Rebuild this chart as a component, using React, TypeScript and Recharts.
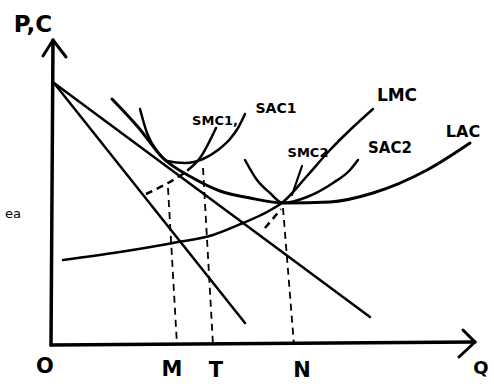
import React from 'react';
import { LineChart, Line, XAxis, YAxis, ReferenceDot } from 'recharts';

// Quantity (x) and price/cost (y) in the sketch's own arbitrary units
const qAxis = [{ x: 0, y: 0 }, { x: 424, y: 3 }];
const pAxis = [{ x: 0, y: 0 }, { x: 2, y: 305 }];
const qArrow = [{ x: 412, y: 15 }, { x: 424, y: 3 }, { x: 408, y: -12 }];
const pArrow = [{ x: -8, y: 289 }, { x: 2, y: 305 }, { x: 15, y: 288 }];

const demandSteep = [{ x: 3, y: 262 }, { x: 194, y: 22 }];
const demandFlat = [{ x: 3, y: 262 }, { x: 319, y: 28 }];

const lac = [
  { x: 61, y: 246 }, { x: 87, y: 218 }, { x: 112, y: 187 }, { x: 142, y: 167 },
  { x: 169, y: 154 }, { x: 199, y: 147 }, { x: 234, y: 142 }, { x: 279, y: 143 },
  { x: 322, y: 152 }, { x: 376, y: 175 }, { x: 419, y: 202 },
];
const lmc = [
  { x: 12, y: 85 }, { x: 69, y: 93 }, { x: 122, y: 102 }, { x: 162, y: 110 },
  { x: 192, y: 122 }, { x: 216, y: 133 }, { x: 232, y: 143 }, { x: 256, y: 169 },
  { x: 279, y: 195 }, { x: 299, y: 215 }, { x: 322, y: 236 },
];
const sac1 = [
  { x: 89, y: 236 }, { x: 96, y: 212 }, { x: 106, y: 194 }, { x: 116, y: 184 },
  { x: 134, y: 182 }, { x: 152, y: 186 }, { x: 167, y: 195 }, { x: 179, y: 206 },
  { x: 187, y: 217 }, { x: 194, y: 231 },
];
const smc1Solid = [{ x: 137, y: 175 }, { x: 149, y: 187 }, { x: 165, y: 217 }];
const smc1Dashed = [{ x: 95, y: 151 }, { x: 117, y: 162 }, { x: 135, y: 173 }];
const sac2 = [
  { x: 194, y: 185 }, { x: 206, y: 165 }, { x: 219, y: 152 }, { x: 232, y: 142 },
  { x: 256, y: 148 }, { x: 282, y: 162 }, { x: 299, y: 175 }, { x: 307, y: 185 },
];
const smc2Solid = [{ x: 241, y: 150 }, { x: 251, y: 179 }];
const smc2Dashed = [{ x: 214, y: 117 }, { x: 230, y: 136 }];

const dropM = [{ x: 117, y: 157 }, { x: 126, y: 0 }];
const dropT = [{ x: 152, y: 177 }, { x: 162, y: 0 }];
const dropN = [{ x: 232, y: 137 }, { x: 243, y: 0 }];

const qTickLabels = [
  { x: -6, y: -21, text: 'O' },
  { x: 121, y: -24, text: 'M' },
  { x: 165, y: -25, text: 'T' },
  { x: 251, y: -25, text: 'N' },
];
const axisTitles = [
  { x: 430, y: -23, text: 'Q', size: 18 },
  { x: -18, y: 321, text: 'P,C', size: 23 },
];
const curveLabels = [
  { x: 164, y: 225, text: 'SMC1,', size: 13 },
  { x: 225, y: 237, text: 'SAC1', size: 14 },
  { x: 346, y: 250, text: 'LMC', size: 17 },
  { x: 257, y: 193, text: 'SMC2', size: 13 },
  { x: 339, y: 197, text: 'SAC2', size: 15 },
  { x: 412, y: 214, text: 'LAC', size: 16 },
];
const strayLabel = [{ x: -38, y: 132, text: 'ea' }];

const FONT = '"DejaVu Sans", sans-serif';

export default function App() {
  const solid = (data: { x: number; y: number }[], w: number, type: 'linear' | 'monotone' = 'linear', key?: string) => (
    <Line
      key={key}
      data={data}
      dataKey="y"
      type={type}
      stroke="#000"
      strokeWidth={w}
      dot={false}
      activeDot={false}
      isAnimationActive={false}
      strokeLinecap="round"
      strokeLinejoin="round"
    />
  );
  const dashed = (data: { x: number; y: number }[], w: number, type: 'linear' | 'monotone' = 'linear') => (
    <Line
      data={data}
      dataKey="y"
      type={type}
      stroke="#000"
      strokeWidth={w}
      strokeDasharray="7 5"
      dot={false}
      activeDot={false}
      isAnimationActive={false}
    />
  );
  return (
    <div style={{ position: 'absolute', left: 0, top: 0, background: '#fff' }}>
      <LineChart width={494} height={388} margin={{ top: 0, right: 0, bottom: 0, left: 0 }}>
        <XAxis type="number" dataKey="x" domain={[-51, 443]} hide allowDataOverflow />
        <YAxis type="number" domain={[-43, 345]} hide allowDataOverflow />
        {solid(qAxis, 3.5)}
        {solid(pAxis, 3.5)}
        {solid(qArrow, 3)}
        {solid(pArrow, 3)}
        {solid(demandSteep, 2.5)}
        {solid(demandFlat, 2.5)}
        {solid(lac, 3, 'monotone')}
        {solid(lmc, 2.5, 'monotone')}
        {solid(sac1, 2.5, 'monotone')}
        {solid(smc1Solid, 2.5, 'monotone')}
        {dashed(smc1Dashed, 2.5, 'monotone')}
        {solid(sac2, 2.5, 'monotone')}
        {solid(smc2Solid, 2.2)}
        {dashed(smc2Dashed, 2.5)}
        {dashed(dropM, 1.8)}
        {dashed(dropT, 1.8)}
        {dashed(dropN, 1.8)}
        {qTickLabels.map((t) => (
          <ReferenceDot key={t.text} x={t.x} y={t.y} r={0} fill="none" stroke="none"
            label={{ value: t.text, position: 'center', fontSize: 21, fontWeight: 700, fill: '#000', fontFamily: FONT }} />
        ))}
        {axisTitles.map((t) => (
          <ReferenceDot key={t.text} x={t.x} y={t.y} r={0} fill="none" stroke="none"
            label={{ value: t.text, position: 'center', fontSize: t.size, fontWeight: 700, fill: '#000', fontFamily: FONT }} />
        ))}
        {curveLabels.map((t) => (
          <ReferenceDot key={t.text} x={t.x} y={t.y} r={0} fill="none" stroke="none"
            label={{ value: t.text, position: 'center', fontSize: t.size, fontWeight: 700, fill: '#000', fontFamily: FONT }} />
        ))}
        {strayLabel.map((t) => (
          <ReferenceDot key={t.text} x={t.x} y={t.y} r={0} fill="none" stroke="none"
            label={{ value: t.text, position: 'center', fontSize: 13, fill: '#000', fontFamily: FONT }} />
        ))}
      </LineChart>
    </div>
  );
}
